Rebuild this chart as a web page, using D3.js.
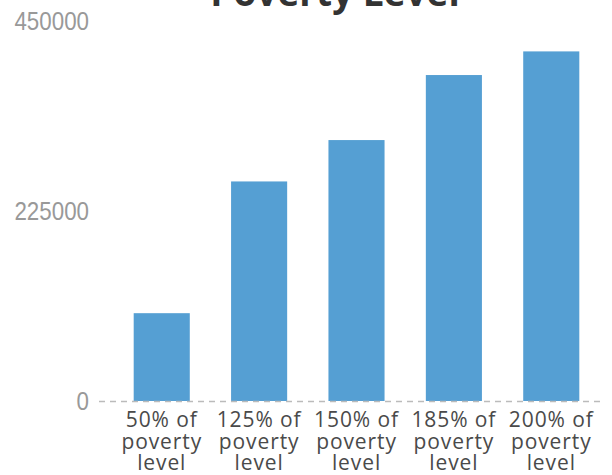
<!DOCTYPE html>
<html>
<head>
<meta charset="utf-8">
<script src="https://cdnjs.cloudflare.com/ajax/libs/d3/7.8.5/d3.min.js"></script>
<style>
  body { margin:0; background:#fff; }
</style>
</head>
<body>
<div id="chart-area"></div>
<script>
var categories=["50% of poverty level","125% of poverty level","150% of poverty level","185% of poverty level","200% of poverty level"];
var values=[104000,260000,309000,386000,414000];
var tickValues=[0,225000,450000];
var title="Poverty Level";

var width=612, height=475;

var svg=d3.select('#chart-area').append('svg')
    .attr('width',width)
    .attr('height',height);

var x=d3.scaleBand()
    .domain(categories)
    .range([85,628])
    .paddingInner(0.424)
    .paddingOuter(0.5);

var y=d3.scaleLinear()
    .domain([0,450000])
    .range([401,21]);

// title, cut off at the top like the original
svg.append("text")
    .attr("x",335)
    .attr("y",6)
    .attr("text-anchor","middle")
    .attr("font-family","'Open Sans', sans-serif")
    .attr("font-weight","bold")
    .attr("font-size","37px")
    .attr("fill","#333")
    .text(title);

// y labels
svg.selectAll(".ylab")
    .data(tickValues)
    .enter()
    .append("text")
    .attr("class","ylab")
    .attr("transform",function(d){ return "translate(89,"+(y(d)+9)+") scale(0.86,1)"; })
    .attr("text-anchor","end")
    .attr("font-family","'Liberation Sans', Arial, sans-serif")
    .attr("font-size","26px")
    .attr("fill","#999")
    .text(function(d){ return d; });

svg.selectAll("rect")
    .data(values)
    .enter()
    .append("rect")
    .attr("x",function(d,i){ return x(categories[i]); })
    .attr("y",function(d){ return y(d); })
    .attr("width",x.bandwidth())
    .attr("height",function(d){ return y(0)-y(d); })
    .attr("fill","#559fd3");

// dashed baseline
svg.append("line")
    .attr("x1",99)
    .attr("x2",605)
    .attr("y1",y(0)+0.5)
    .attr("y2",y(0)+0.5)
    .attr("stroke","#bbb")
    .attr("stroke-width",1.5)
    .style("stroke-dasharray","6,5");

// x labels, wrapped to three lines
var xl=svg.selectAll(".xlab")
    .data(categories)
    .enter()
    .append("text")
    .attr("class","xlab")
    .attr("text-anchor","middle")
    .attr("font-family","'Open Sans', sans-serif")
    .attr("font-size","21px")
    .attr("letter-spacing","0.9px")
    .attr("fill","#4a4a4a");

xl.each(function(d){
    var words=d.split(" ");
    var lines=[words[0]+" "+words[1],words[2],words[3]];
    var cx=x(d)+x.bandwidth()/2;
    var t=d3.select(this);
    lines.forEach(function(l,j){
        t.append("tspan")
            .attr("x",cx)
            .attr("y",427+j*21.5)
            .text(l);
    });
});
</script>
</body>
</html>
